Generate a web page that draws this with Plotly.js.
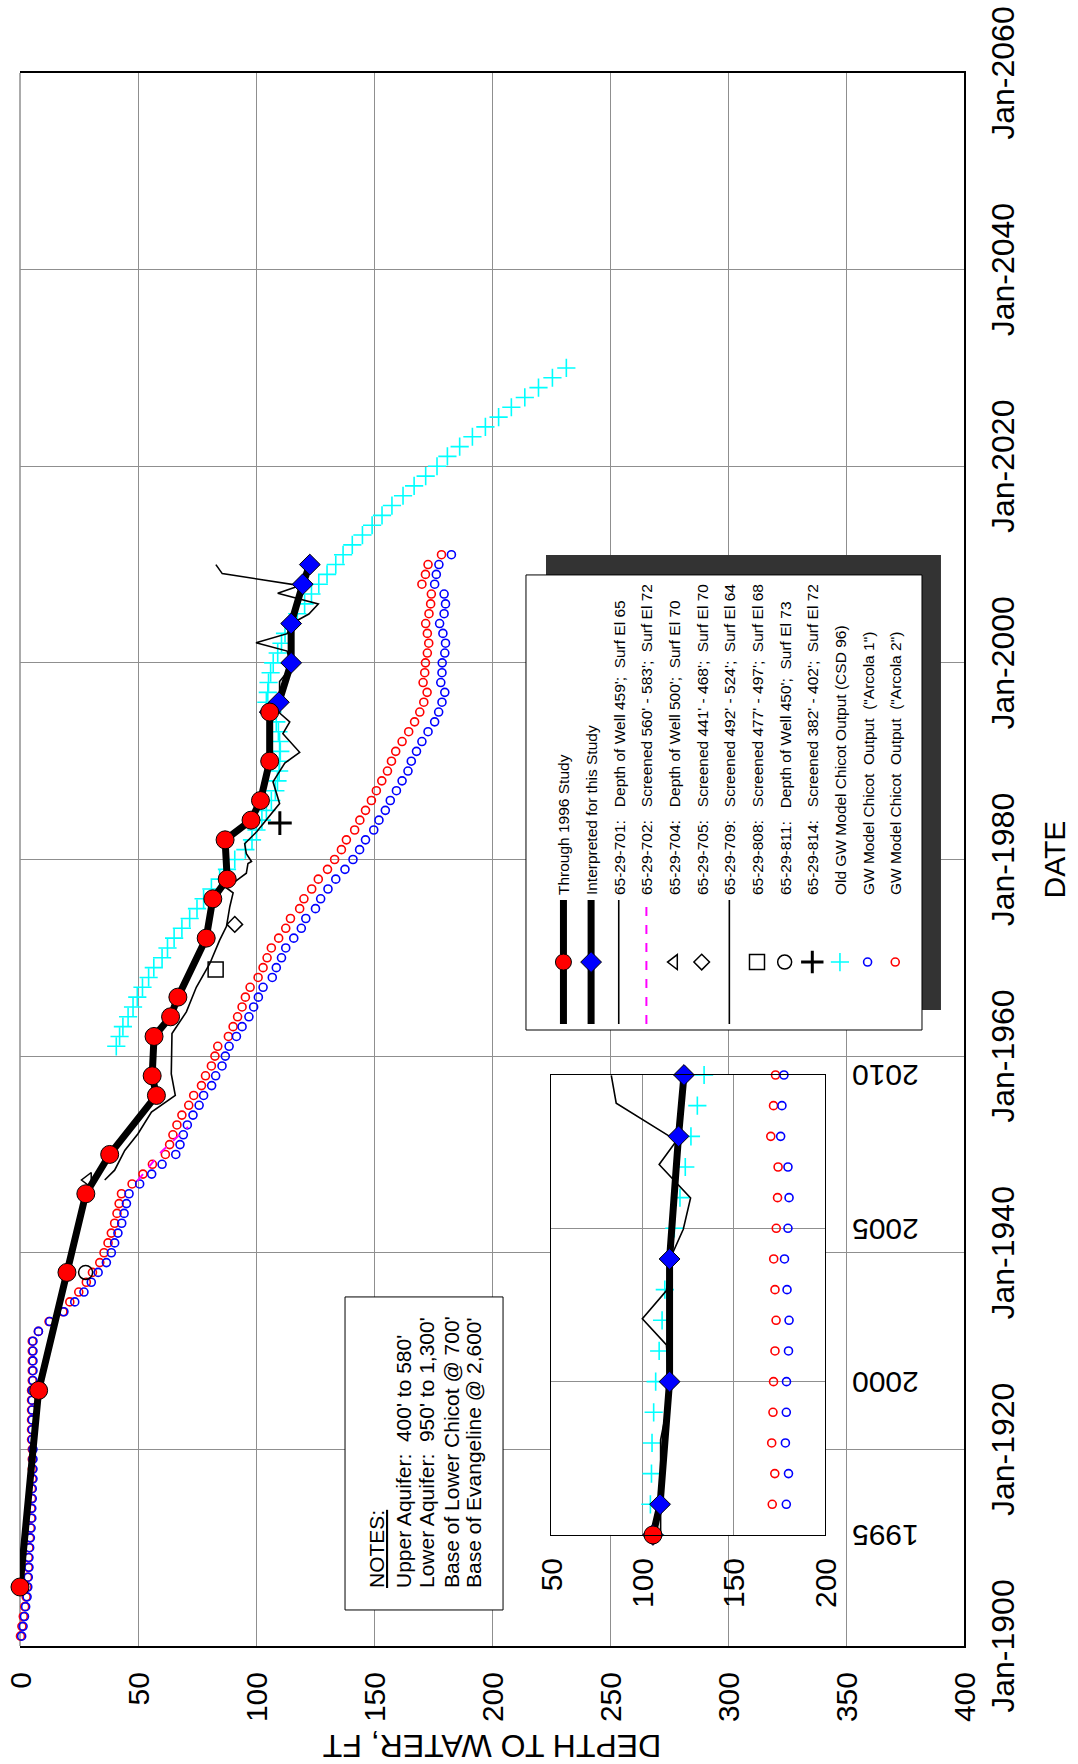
<!DOCTYPE html>
<html><head><meta charset="utf-8">
<script src="https://cdn.plot.ly/plotly-3.0.1.min.js"></script>
<style>
html,body{margin:0;padding:0;width:1078px;height:1764px;overflow:hidden;background:#fff;}
#wrap{position:absolute;left:0;top:0;width:1764px;height:1078px;transform-origin:0 0;transform:translateY(1764px) rotate(-90deg);}
#chart{width:1764px;height:1078px;}
</style></head><body>
<div id="wrap"><div id="chart"></div></div>
<script>
const FONT = 'Liberation Sans, Arial, Helvetica, sans-serif';

// ---- axis ticks ----
const dateTicks = [1900,1920,1940,1960,1980,2000,2020,2040,2060];
const dateTickText = dateTicks.map(y => 'Jan-' + y);
const depthTicks = [0,50,100,150,200,250,300,350,400];
const insetYearTicks = [1995,2000,2005,2010];
const insetDepthTicks = [50,100,150,200];

// ---- series ----
const studyYears = [1906,1926,1938,1946,1950,1956,1958,1962,1964,1966,1972,1976,1978,1982,1984,1986,1990,1995];
const studyDepth = [0,7.9,19.9,27.9,38.0,57.8,56.0,56.8,63.8,66.9,78.9,81.7,87.8,86.9,97.9,101.9,105.8,105.8];

const interpYears = [1995,1996,2000,2004,2008,2010];
const interpDepth = [105.8,109.7,114.9,114.9,119.8,122.8];

const w701Years = [1947.4,1948.4,1950.4,1952.1,1954.3,1956.0,1958.2,1962.3,1964.5,1967.0,1969.4,1971.8,1973.2,1975.2,1976.6,1977.1,1978.1,1978.6,1979.6,1979.8,1980.6,1981.6,1982.8];
const w701Depth = [35.9,40.1,44.4,50.0,55.7,65.8,64.1,64.4,70.5,74.7,80.4,84.6,87.5,88.9,90.3,87.5,93.1,95.9,96.6,98.1,95.9,95.2,100.2];

const w709Years = [1982.8,1984.2,1985.7,1987.9,1989.8,1990.9,1992.8,1994.0,1994.9,1998.1,1999.6,2001.2,2002.05,2002.97,2003.97,2004.97,2005.99,2007.08,2007.86,2009.08,2009.99];
const w709Depth = [100.2,105.1,110.0,107.2,112.2,118.5,111.4,114.3,110.0,110.0,115.0,113.2,100.0,113.2,114.9,122.4,126.4,109.2,118.7,85.7,83.0];

const w702Years = [1947.3,1950.3,1952.8];
const w702Depth = [49.7,60.0,71.2];

const w704Years = [1947.4]; const w704Depth = [28.8];
const w705Years = [1973.4]; const w705Depth = [91.0];
const w808Years = [1968.8]; const w808Depth = [82.9];
const w811Years = [1938.0]; const w811Depth = [27.8];
const w814Years = [1983.7]; const w814Depth = [110.1];

const modelYears = [
 1901,1902,1903,1904,1905,1906,1907,1908,1909,1910,
 1911,1912,1913,1914,1915,1916,1917,1918,1919,1920,
 1921,1922,1923,1924,1925,1926,1927,1928,1929,1930,
 1931,1932,1933,1934,1935,1936,1937,1938,1939,1940,
 1941,1942,1943,1944,1945,1946,1947,1948,1949,1950,
 1951,1952,1953,1954,1955,1956,1957,1958,1959,1960,
 1961,1962,1963,1964,1965,1966,1967,1968,1969,1970,
 1971,1972,1973,1974,1975,1976,1977,1978,1979,1980,
 1981,1982,1983,1984,1985,1986,1987,1988,1989,1990,
 1991,1992,1993,1994,1995,1996,1997,1998,1999,2000,
 2001,2002,2003,2004,2005,2006,2007,2008,2009,2010,
 2011];
const arcola1Depth = [
 0.7,1.3,1.9,2.4,3.0,3.3,3.5,3.8,3.8,4.1,
 4.4,4.7,5.0,5.0,5.2,5.2,5.5,5.5,5.5,5.5,
 5.2,5.2,5.2,5.2,5.2,5.2,5.5,5.5,5.5,5.5,
 5.5,7.8,12.6,18.6,23.2,27.1,30.2,33.1,36.6,38.7,
 40.1,41.5,43.1,44.1,45.1,46.2,50.7,55.8,60.2,66.0,
 67.8,69.2,70.9,73.3,75.9,77.8,81.2,82.9,85.6,87.0,
 88.6,91.7,94.1,97.0,99.0,101.0,103.0,106.9,108.6,110.8,
 112.6,116.0,119.2,121.1,125.2,127.4,130.5,133.8,137.7,141.1,
 143.9,146.4,149.9,152.1,154.8,156.9,159.5,161.9,164.4,165.8,
 168.0,170.3,172.9,175.7,177.4,178.8,180.0,178.3,178.8,178.9,
 180.0,180.3,179.2,177.8,179.7,180.3,179.7,175.7,176.4,177.5,
 182.8];
const arcola2Depth = [
 0.2,0.8,1.4,2.0,2.6,3.0,3.2,3.5,3.5,3.8,
 4.1,4.4,4.7,4.7,4.9,4.9,5.2,5.2,5.2,5.2,
 4.9,4.9,4.9,4.9,4.9,4.9,5.2,5.2,5.2,5.2,
 5.2,7.8,12.3,18.2,21.1,24.9,28.1,30.7,33.8,35.6,
 37.3,38.7,40.1,41.1,42.0,43.0,47.5,52.1,56.1,61.6,
 63.4,64.8,66.5,68.6,71.5,73.6,76.9,78.6,81.1,82.6,
 83.8,88.3,90.3,92.2,94.1,95.5,97.5,100.9,103.0,104.7,
 106.5,109.6,112.6,114.6,118.5,120.3,123.6,126.4,130.3,133.3,
 136.2,138.3,141.8,144.0,146.4,148.9,151.0,153.3,155.7,157.4,
 159.2,161.9,164.7,167.2,169.4,171.1,172.5,170.8,171.5,171.8,
 172.6,173.2,172.6,171.9,173.3,174.0,174.3,170.3,171.8,172.9,
 178.6];

const csd96Years = [
 1961,1962,1963,1964,1965,1966,1967,1968,1969,1970,
 1971,1972,1973,1974,1975,1976,1977,1978,1979,1980,
 1981,1982,1983,1984,1985,1986,1987,1988,1989,1990,
 1991,1992,1993,1994,1995,1996,1997,1998,1999,2000,
 2001,2002,2003,2004,2005,2006,2007,2008,2009,2010,
 2011,2012,2013,2014,2015,2016,2017,2018,2019,2020,
 2021,2022,2023,2024,2025,2026,2027,2028,2029,2030];
const csd96Depth = [
 40.8,42.2,43.6,45.8,47.9,49.7,51.9,54.5,56.7,60.2,
 62.5,65.3,68.6,71.9,75.0,77.8,81.1,84.6,87.7,91.0,
 95.5,98.3,100.2,102.5,104.4,106.5,108.2,109.1,109.8,110.0,
 110.3,110.0,109.5,108.6,107.0,104.4,105.0,105.3,106.2,107.3,
 109.2,110.8,112.3,114.5,117.5,120.6,123.5,126.6,130.1,133.8,
 136.9,140.8,145.1,149.2,153.4,157.6,162.3,167.0,171.9,176.7,
 181.1,186.3,191.7,197.2,202.8,208.2,213.9,219.7,225.6,231.5];

const NB = '\u00a0';
const names = {
  study: 'Through 1996 Study',
  interp: 'Interpreted for this Study',
  w701: '65-29-701:' + NB+NB+NB + "Depth of Well 459';" + NB+NB + 'Surf El 65',
  w702: '65-29-702:' + NB+NB+NB + "Screened 560' - 583';" + NB+NB + 'Surf El 72',
  w704: '65-29-704:' + NB+NB+NB + "Depth of Well 500';" + NB+NB + 'Surf El 70',
  w705: '65-29-705:' + NB+NB+NB + "Screened 441' - 468';" + NB+NB + 'Surf El 70',
  w709: '65-29-709:' + NB+NB+NB + "Screened 492' - 524';" + NB+NB + 'Surf El 64',
  w808: '65-29-808:' + NB+NB+NB + "Screened 477' - 497';" + NB+NB + 'Surf El 68',
  w811: '65-29-811:' + NB+NB+NB + "Depth of Well 450';" + NB+NB + 'Surf El 73',
  w814: '65-29-814:' + NB+NB+NB + "Screened 382' - 402';" + NB+NB + 'Surf El 72',
  csd96: 'Old GW Model Chicot Output (CSD 96)',
  arc1: 'GW Model Chicot' + NB + ' Output' + NB + ' ("Arcola 1")',
  arc2: 'GW Model Chicot' + NB + ' Output' + NB + ' ("Arcola 2")'
};
const notesLines = [
  '<span style="text-decoration:underline">NOTES:</span>',
  "Upper Aquifer:" + NB+NB + "400' to 580'",
  "Lower Aquifer:" + NB+NB + "950' to 1,300'",
  "Base of Lower Chicot @ 700'",
  "Base of Evangeline @ 2,600'"
];

// ---- styles ----
const S = {
  study: {mode:'lines+markers', line:{color:'#000', width:7}, marker:{symbol:'circle', size:18, color:'#ff0000', line:{color:'#000', width:1}}},
  interp: {mode:'lines+markers', line:{color:'#000', width:7}, marker:{symbol:'diamond', size:16, color:'#0000ff', line:{color:'#000', width:1}}},
  thin: {mode:'lines', line:{color:'#000', width:1.6}},
  w702: {mode:'lines', line:{color:'#ff00ff', width:2, dash:'dash'}},
  w704: {mode:'markers', marker:{symbol:'triangle-up-open', size:13, color:'#000', line:{color:'#000', width:1.5}}},
  w705: {mode:'markers', marker:{symbol:'diamond-open', size:12, color:'#000', line:{color:'#000', width:1.5}}},
  w808: {mode:'markers', marker:{symbol:'square-open', size:15, color:'#000', line:{color:'#000', width:1.5}}},
  w811: {mode:'markers', marker:{symbol:'circle-open', size:14, color:'#000', line:{color:'#000', width:1.5}}},
  w814: {mode:'markers', marker:{symbol:'cross-thin', size:17, color:'#000', line:{color:'#000', width:3}}},
  csd96: {mode:'markers', marker:{symbol:'cross-thin', size:13, color:'#00ffff', line:{color:'#00ffff', width:1.6}}},
  arc1: {mode:'markers', marker:{symbol:'circle-open', size:8, color:'#0000ff', line:{color:'#0000ff', width:1.6}}},
  arc2: {mode:'markers', marker:{symbol:'circle-open', size:8, color:'#ff0000', line:{color:'#ff0000', width:1.6}}}
};

function mk(key, xs, ys, rank, extra) {
  return Object.assign({type:'scatter', x:xs, y:ys, name:names[key], legendgroup:key, legendrank:rank,
    cliponaxis:false, hoverinfo:'skip'}, JSON.parse(JSON.stringify(S[key === 'w701' || key === 'w709' ? 'thin' : key])), extra || {});
}
function within(xs, ys, lo, hi) {
  const ox = [], oy = [];
  xs.forEach((x, i) => { if (x >= lo && x <= hi) { ox.push(x); oy.push(ys[i]); } });
  return [ox, oy];
}

const data = [
  mk('arc2', modelYears, arcola2Depth, 13),
  mk('arc1', modelYears, arcola1Depth, 12),
  mk('csd96', csd96Years, csd96Depth, 11),
  mk('w701', w701Years, w701Depth, 3),
  mk('w709', w709Years, w709Depth, 7),
  mk('w702', w702Years, w702Depth, 4),
  mk('w704', w704Years, w704Depth, 5),
  mk('w705', w705Years, w705Depth, 6),
  mk('w808', w808Years, w808Depth, 8),
  mk('w811', w811Years, w811Depth, 9),
  mk('w814', w814Years, w814Depth, 10),
  mk('interp', interpYears, interpDepth, 2),
  mk('study', studyYears, studyDepth, 1)
];
// inset copies
const inset = {xaxis:'x3', yaxis:'y3', showlegend:false};
let a2 = within(modelYears, arcola2Depth, 1996, 2010);
let a1 = within(modelYears, arcola1Depth, 1996, 2010);
let cs = within(csd96Years, csd96Depth, 1995, 2010);
let st = within(studyYears, studyDepth, 1995, 2010);
data.push(mk('arc2', a2[0], a2[1], 20, inset));
data.push(mk('arc1', a1[0], a1[1], 21, inset));
data.push(mk('csd96', cs[0], cs[1], 22, inset));
data.push(mk('w709', w709Years, w709Depth, 23, inset));
data.push(mk('interp', interpYears, interpDepth, 24, inset));
data.push(mk('study', st[0], st[1], 25, inset));

const GRID = '#8f8f8f';
const tickFont = {family:FONT, size:30, color:'#000'};

const layout = {
  width:1764, height:1078,
  margin:{l:118, r:73, t:20, b:114, pad:0},
  paper_bgcolor:'#fff', plot_bgcolor:'#fff',
  font:{family:FONT, color:'#000'},
  showlegend:true,
  xaxis:{
    range:[1900,2060], tickmode:'array', tickvals:dateTicks, ticktext:dateTickText,
    showgrid:true, gridcolor:GRID, gridwidth:1, zeroline:false,
    showline:true, linecolor:'#000', linewidth:2, mirror:false,
    ticks:'', tickfont:{family:FONT, size:32, color:'#000'}, ticklabelstandoff:10,
    title:{text:'DATE', font:{family:FONT, size:30, color:'#000'}, standoff:24},
    automargin:false, fixedrange:true
  },
  yaxis:{
    range:[400,0], tickmode:'array', tickvals:depthTicks,
    showgrid:true, gridcolor:GRID, gridwidth:1, zeroline:false,
    showline:true, linecolor:'#000', linewidth:2, mirror:true,
    ticks:'', tickfont:tickFont, ticklabelstandoff:18,
    title:{text:'DEPTH TO WATER, FT', font:{family:FONT, size:32, color:'#000'}, standoff:10},
    automargin:false, fixedrange:true
  },
  // inset outer frame
  xaxis2:{domain:[0.0146,0.3738], anchor:'y2', range:[0,1], showgrid:false, zeroline:false,
    showticklabels:false, ticks:'', showline:true, mirror:true, linecolor:'#000', linewidth:1.5, fixedrange:true},
  yaxis2:{domain:[0.0297,0.4587], anchor:'x2', range:[0,1], showgrid:false, zeroline:false,
    showticklabels:false, ticks:'', showline:true, mirror:true, linecolor:'#000', linewidth:1.5, fixedrange:true},
  // inset plot
  xaxis3:{domain:[0.0706,0.3630], anchor:'y3', range:[1995,2010], tickmode:'array', tickvals:insetYearTicks,
    tickangle:-90, showgrid:true, gridcolor:GRID, zeroline:false, showline:true, mirror:true,
    linecolor:'#000', linewidth:1, ticks:'', tickfont:tickFont, ticklabelstandoff:14, fixedrange:true},
  yaxis3:{domain:[0.1472,0.4375], anchor:'x3', range:[200,50], tickmode:'array', tickvals:insetDepthTicks,
    showgrid:true, gridcolor:GRID, zeroline:false, showline:true, mirror:true,
    linecolor:'#000', linewidth:1, ticks:'', tickfont:tickFont, ticklabelstandoff:16, fixedrange:true},
  legend:{
    x:0.3922, y:0.4584, xanchor:'left', yanchor:'top',
    bgcolor:'rgba(0,0,0,0)', bordercolor:'#000', borderwidth:0,
    font:{family:FONT, size:15.5, color:'#000'},
    itemwidth:124, tracegroupgap:4.5, traceorder:'grouped',
    title:{text:NB, font:{family:FONT, size:12}}
  },
  shapes:[
    {type:'line', xref:'paper', yref:'paper', x0:0, x1:1, y0:1, y1:1, line:{color:GRID, width:1.5}, layer:'below'},
    // notes box
    {type:'rect', xref:'paper', yref:'paper', x0:0.0229, x1:0.2219, y0:0.4883, y1:0.6557,
      fillcolor:'#fff', line:{color:'#000', width:1}, layer:'above'},
    // legend shadow and frame
    {type:'rect', xref:'paper', yref:'paper', x0:0.4043, x1:0.6936, y0:0.0244, y1:0.4428,
      fillcolor:'#333333', line:{width:0}, layer:'above'},
    {type:'rect', xref:'paper', yref:'paper', x0:0.3916, x1:0.6809, y0:0.0445, y1:0.4640,
      fillcolor:'#fff', line:{color:'#000', width:1}, layer:'above'}
  ],
  annotations:[]
};
const notesY = [0.6222,0.5940,0.5692,0.5427,0.5198];
notesLines.forEach((t, i) => layout.annotations.push({
  xref:'paper', yref:'paper', x:0.0356, y:notesY[i], xanchor:'left', yanchor:'middle',
  text:t, showarrow:false, align:'left', font:{family:FONT, size:21, color:'#000'}
}));

Plotly.newPlot(document.getElementById('chart'), data, layout, {displayModeBar:false, staticPlot:true});
</script></body></html>
